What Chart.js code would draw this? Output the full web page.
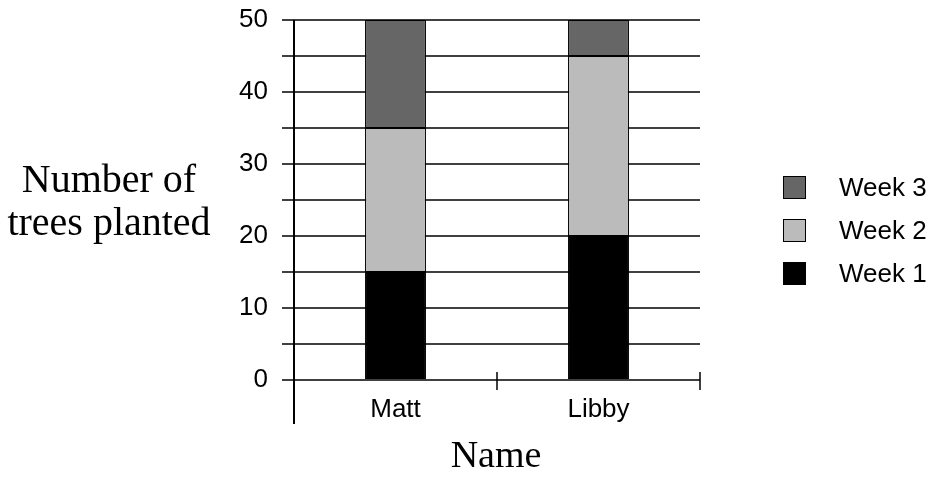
<!DOCTYPE html>
<html>
<head>
<meta charset="utf-8">
<script src="https://cdn.jsdelivr.net/npm/chart.js@4"></script>
<style>
  body { margin: 0; background: #fff; }
  #wrap { position: relative; width: 932px; height: 477px; }
  canvas { position: absolute; left: 0; top: 0; }
  .serif { position: absolute; font-family: "Liberation Serif", "Times New Roman", serif; color: #000; text-align: center; white-space: nowrap; }
  #ytitle { left: 3px; width: 212px; top: 157px; font-size: 40px; line-height: 43px; }
  #xtitle { left: 396px; width: 200px; top: 432px; font-size: 38px; line-height: 44px; }
  #legend { position: absolute; left: 783px; top: 0; font-family: "Liberation Sans", Arial, sans-serif; font-size: 26px; }
  .item { position: absolute; left: 0; height: 24px; display: flex; align-items: center; white-space: nowrap; }
  .box { width: 21px; height: 21px; border: 1px solid #000; margin-right: 33px; }
</style>
</head>
<body>
<div id="wrap">
  <canvas id="chart" width="932" height="477"></canvas>
  <div id="ytitle" class="serif">Number of<br>trees planted</div>
  <div id="xtitle" class="serif">Name</div>
  <div id="legend"></div>
</div>
<script>
const names = ['Matt', 'Libby'];
const week1 = [15, 20];
const week2 = [20, 25];
const week3 = [15, 5];
const seriesLabels = ['Week 1', 'Week 2', 'Week 3'];
const seriesColors = ['#000000', '#bbbbbb', '#666666'];
const yTicks = [0, 10, 20, 30, 40, 50];

// legend, top item is Week 3
const legendRows = [187, 230, 273];
const legend = document.getElementById('legend');
[2, 1, 0].forEach((s, i) => {
  const row = document.createElement('div');
  row.className = 'item';
  row.style.top = (legendRows[i] - 12) + 'px';
  row.innerHTML = '<span class="box" style="background:' + seriesColors[s] + '"></span>' + seriesLabels[s];
  legend.appendChild(row);
});

// left axis running past the x axis, plus ticks at category edges
const axisLines = {
  id: 'axisLines',
  afterDraw(chart) {
    const { ctx, chartArea, scales } = chart;
    ctx.save();
    ctx.strokeStyle = '#000';
    ctx.lineWidth = 2;
    ctx.beginPath();
    ctx.moveTo(chartArea.left, chartArea.top);
    ctx.lineTo(chartArea.left, chartArea.bottom + 44);
    ctx.stroke();
    ctx.lineWidth = 1.5;
    const x = scales.x;
    const half = (x.getPixelForValue(1) - x.getPixelForValue(0)) / 2;
    ctx.beginPath();
    for (let i = 0; i < names.length; i++) {
      const px = x.getPixelForValue(i) + half;
      ctx.moveTo(px, chartArea.bottom - 8);
      ctx.lineTo(px, chartArea.bottom + 10);
    }
    ctx.stroke();
    ctx.restore();
  }
};

new Chart(document.getElementById('chart'), {
  type: 'bar',
  data: {
    labels: names,
    datasets: [week1, week2, week3].map((d, i) => ({
      label: seriesLabels[i],
      data: d,
      backgroundColor: seriesColors[i],
      borderColor: '#000',
      borderWidth: 1,
      borderSkipped: false,
      barPercentage: 0.3,
      categoryPercentage: 1
    }))
  },
  options: {
    responsive: false,
    animation: false,
    layout: { padding: { left: 0, right: 232, top: 0, bottom: 0 } },
    plugins: { legend: { display: false }, tooltip: { enabled: false } },
    scales: {
      x: {
        stacked: true,
        grid: { display: false },
        border: { display: false },
        ticks: { color: '#000', padding: 6, font: { family: '"Liberation Sans", Arial, sans-serif', size: 26 } },
        afterFit(s) { s.height = 97; }
      },
      y: {
        stacked: true,
        min: 0,
        max: 50,
        afterBuildTicks(s) {
          const t = [];
          for (let v = 0; v <= 50; v += 5) t.push({ value: v });
          s.ticks = t;
        },
        grid: { color: '#404040', lineWidth: 2, tickLength: 12 },
        border: { display: false },
        ticks: {
          color: '#000',
          padding: 14,
          font: { family: '"Liberation Sans", Arial, sans-serif', size: 26, lineHeight: 0.46 },
          callback: v => yTicks.includes(v) ? String(v) : ''
        },
        afterFit(s) { s.width = 294; }
      }
    }
  },
  plugins: [axisLines]
});
</script>
</body>
</html>
